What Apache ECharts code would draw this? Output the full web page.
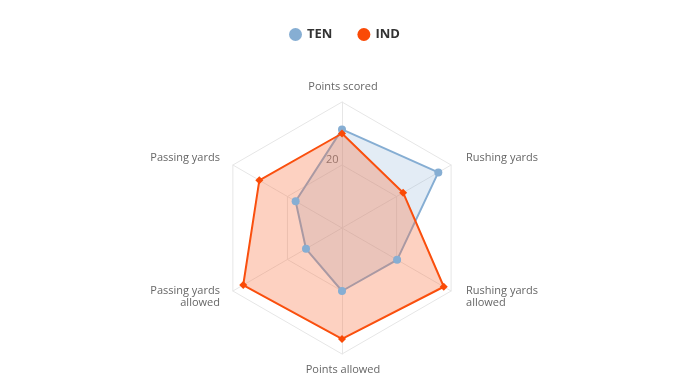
<!DOCTYPE html>
<html><head><meta charset="utf-8">
<script src="https://cdn.jsdelivr.net/npm/echarts@6/dist/echarts.min.js"></script>
<style>html,body{margin:0;padding:0;background:#fff}#c{width:696px;height:383px}</style>
</head><body><div id="c"></div>
<script>
// Indicators listed clockwise from the top, as in the reference
const indicators = ['Points scored', 'Rushing yards', 'Rushing yards\nallowed', 'Points allowed', 'Passing yards\nallowed', 'Passing yards'];
const axisMax = 40;
const tenValues = [31.3, 35.3, 20.2, 20.0, 13.2, 17.0];
const indValues = [30.0, 22.4, 37.3, 35.2, 36.2, 30.3];
const seriesNames = ['TEN', 'IND'];

// ECharts radar runs counter-clockwise: keep first, reverse the rest
const ccw = arr => [arr[0]].concat(arr.slice(1).reverse());

// label style tag by position (upper side labels sit a bit higher, lower ones a bit lower)
const labelTag = { 'Rushing yards': 'u', 'Passing yards': 'u' };

const chart = echarts.init(document.getElementById('c'));
chart.setOption({
  animation: false,
  legend: {
    top: 23, left: 284, itemGap: 25, icon: 'circle', itemWidth: 13, itemHeight: 13,
    textStyle: { fontFamily: 'Open Sans', fontWeight: 'bold', fontSize: 13, color: '#333' },
    data: seriesNames
  },
  radar: {
    center: [342, 228], radius: 126, startAngle: 90, splitNumber: 2,
    indicator: ccw(indicators).map(n => ({ name: n, min: 0, max: axisMax })),
    axisName: {
      color: '#666', fontFamily: 'Open Sans', fontSize: 11, lineHeight: 15, padding: [0, 6, 0, 8],
      formatter: function (name) {
        const lines = name.split('\n');
        if (lines.length > 1) return '{l|' + lines[0] + '}\n{n|' + lines[1] + '}';
        if (labelTag[name]) return '{u|' + name + '}';
        return '{n|' + name + '}';
      },
      rich: {
        n: { color: '#666', fontFamily: 'Open Sans', fontSize: 11, lineHeight: 15 },
        u: { color: '#666', fontFamily: 'Open Sans', fontSize: 11, lineHeight: 15, padding: [0, 0, 6, 0] },
        l: { color: '#666', fontFamily: 'Open Sans', fontSize: 11, lineHeight: 15, padding: [6, 0, 0, 0] }
      }
    },
    nameGap: 8,
    splitLine: { lineStyle: { color: '#e6e6e6', width: 1 } },
    splitArea: { show: false },
    axisLine: { lineStyle: { color: '#e6e6e6' } },
    axisLabel: { show: false }
  },
  series: [{
    type: 'radar',
    data: [
      { name: 'TEN', value: ccw(tenValues), symbol: 'circle', symbolSize: 8,
        itemStyle: { color: '#86aed3' }, lineStyle: { color: '#86aed3', width: 2 },
        areaStyle: { color: 'rgba(134,174,211,0.33)' } },
      { name: 'IND', value: ccw(indValues), symbol: 'diamond', symbolSize: 8,
        itemStyle: { color: '#fa4a06' }, lineStyle: { color: '#fa4a06', width: 2 },
        areaStyle: { color: 'rgba(250,110,60,0.45)' } }
    ]
  }],
  graphic: [{
    type: 'text', left: 326, top: 154,
    style: { text: '20', fill: '#666', font: '11px "Open Sans"' }
  }]
});
</script></body></html>
